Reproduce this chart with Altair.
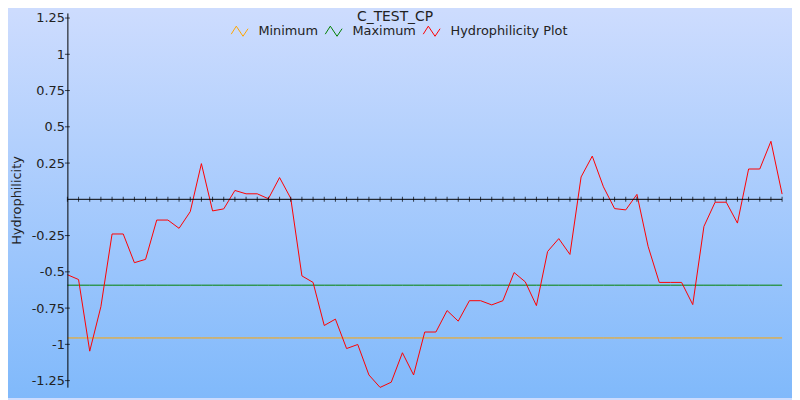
import altair as alt
import pandas as pd

# ---- data ----
x_index = list(range(65))
hydrophilicity = [
    -0.52, -0.553, -1.047, -0.74, -0.239, -0.239, -0.437, -0.414, -0.143, -0.143,
    -0.20, -0.085, 0.246, -0.08, -0.066, 0.061, 0.038, 0.038, 0.004, 0.150,
    0.007, -0.528, -0.573, -0.870, -0.826, -1.029, -1.001, -1.211, -1.297, -1.261,
    -1.058, -1.211, -0.915, -0.915, -0.767, -0.84, -0.699, -0.699, -0.728, -0.699,
    -0.505, -0.569, -0.733, -0.36, -0.271, -0.38, 0.154, 0.298, 0.086, -0.064,
    -0.073, 0.034, -0.324, -0.573, -0.573, -0.573, -0.726, -0.187, -0.02, -0.02,
    -0.164, 0.209, 0.209, 0.40, 0.036,
]
minimum_level = -0.956
maximum_level = -0.592
y_ticks = [-1.25, -1, -0.75, -0.5, -0.25, 0.25, 0.5, 0.75, 1, 1.25]
series_names = ["Minimum", "Maximum", "Hydrophilicity Plot"]
series_colors = ["#FFA500", "#008000", "#FF0000"]
chart_title = "C_TEST_CP"
y_title = "Hydrophilicity"

rows = []
for i in x_index:
    rows.append({"x": i, "y": minimum_level, "series": "Minimum"})
for i in x_index:
    rows.append({"x": i, "y": maximum_level, "series": "Maximum"})
for i, v in zip(x_index, hydrophilicity):
    rows.append({"x": i, "y": v, "series": "Hydrophilicity Plot"})
lines_df = pd.DataFrame(rows)
xticks_df = pd.DataFrame({"x": x_index})
yticks_df = pd.DataFrame({"y": y_ticks})
one = pd.DataFrame({"a": [0]})

FONT = "DejaVu Sans"
TXT = "#222222"

x_scale = alt.Scale(domain=[0, 64], nice=False, zero=False)
y_scale = alt.Scale(domain=[-1.295, 1.285], nice=False, zero=False)
y_axis = alt.Axis(
    values=y_ticks,
    labelExpr="datum.value == 0 ? '' : datum.value + ''",
    ticks=False, tickSize=0, grid=False, zindex=1,
    domainColor="black", domainWidth=1,
    labelFont=FONT, labelFontSize=13, labelColor=TXT, labelPadding=3,
    title=y_title, titleFont=FONT, titleFontSize=13, titleFontWeight="normal",
    titleColor=TXT, titlePadding=8,
)

bg = alt.Chart(one).mark_rect(
    fill=alt.LinearGradient(
        gradient="linear",
        stops=[alt.GradientStop(color="#CDDCFE", offset=0),
               alt.GradientStop(color="#80B9FB", offset=1)],
        x1=0, x2=0, y1=0, y2=1,
    ),
    strokeWidth=0,
).encode(x=alt.value(-60), x2=alt.value(732), y=alt.value(-3), y2=alt.value(389))

title = alt.Chart(one).mark_text(
    text=chart_title, font=FONT, fontSize=14, color=TXT, align="center", baseline="top"
).encode(x=alt.value(331), y=alt.value(-3))

lines = alt.Chart(lines_df).mark_line(strokeWidth=1).encode(
    x=alt.X("x:Q", scale=x_scale, axis=None),
    y=alt.Y("y:Q", scale=y_scale, axis=y_axis),
    color=alt.Color(
        "series:N",
        scale=alt.Scale(domain=series_names, range=series_colors),
        sort=series_names,
        legend=alt.Legend(
            orient="none", legendX=165, legendY=9, direction="horizontal", title=None,
            symbolType="M-1,0.35L-0.4,-0.6L0.4,0.6L1,-0.3", symbolSize=289,
            symbolStrokeWidth=1, symbolFillColor="transparent",
            labelFont=FONT, labelFontSize=13, labelColor=TXT,
            labelOffset=10, columnPadding=4, padding=0, zindex=1,
        ),
    ),
    detail="series:N",
)

xaxis_line = alt.Chart(one).mark_rule(color="black", strokeWidth=1).encode(
    y=alt.datum(0, scale=y_scale)
)
xaxis_ticks = alt.Chart(xticks_df).mark_tick(
    orient="vertical", size=5, thickness=1, color="black"
).encode(x=alt.X("x:Q", scale=x_scale, axis=None), y=alt.datum(0))

yaxis_ticks = alt.Chart(yticks_df).mark_tick(
    orient="horizontal", size=5, thickness=1, color="black"
).encode(y=alt.Y("y:Q", scale=y_scale, axis=y_axis), x=alt.value(0))

chart = alt.layer(bg, lines, xaxis_line, xaxis_ticks, yaxis_ticks, title).properties(
    width=722, height=378,
    autosize=alt.AutoSizeParams(type="none"),
    padding={"left": 60, "top": 3, "right": 10, "bottom": 11},
).configure(font=FONT, background="#CDDCFE").configure_view(stroke=None)

chart.save("out.html", embed_options={"renderer": "svg", "actions": False})
